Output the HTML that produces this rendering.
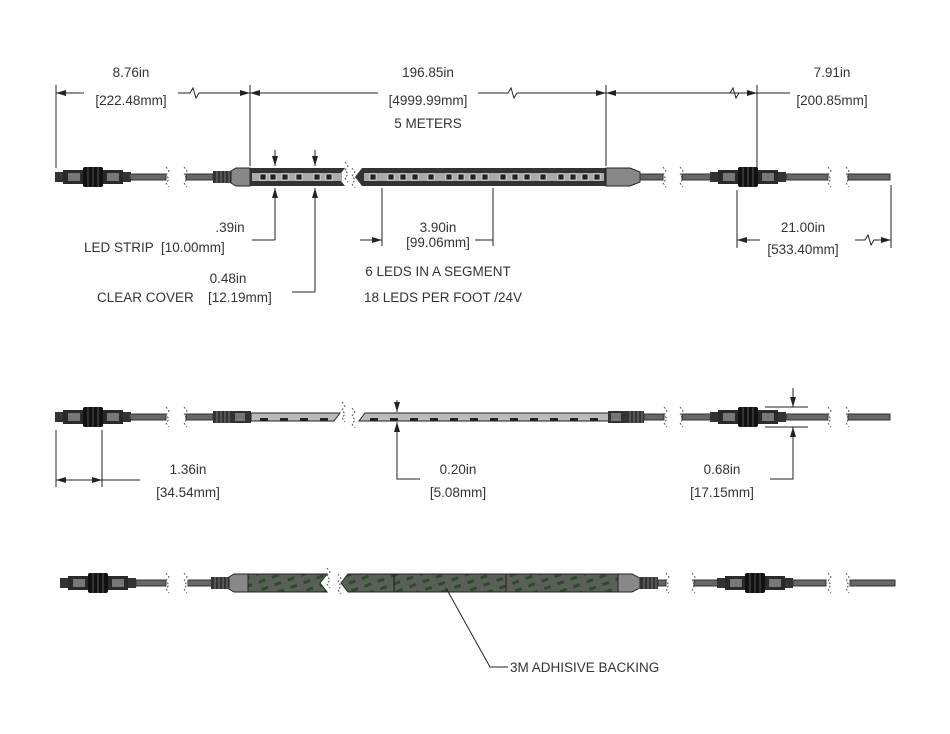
<!DOCTYPE html>
<html><head><meta charset="utf-8"><style>
html,body{margin:0;padding:0;background:#fff;width:950px;height:734px;overflow:hidden}
svg{display:block;overflow:hidden}
text{font-family:"Liberation Sans",sans-serif;font-size:13.5px;fill:#333}
</style></head><body>
<svg width="950" height="734" viewBox="0 0 950 734" xmlns="http://www.w3.org/2000/svg">
<defs>
<marker id="a" viewBox="0 0 10 6" refX="10" refY="3" markerWidth="10" markerHeight="6" orient="auto-start-reverse" markerUnits="userSpaceOnUse"><path d="M0,0 L10,3 L0,6z" fill="#222"/></marker>
<pattern id="g" width="14" height="8" patternUnits="userSpaceOnUse" patternTransform="rotate(-20)">
<rect width="14" height="8" fill="#5a5f58"/><rect x="2" y="2" width="7" height="3" fill="#2f4a2c"/></pattern>
<g id="conn">
<rect x="0" y="-5" width="8" height="10" fill="#333"/>
<rect x="8" y="-7" width="22" height="14" fill="#2a2a2a"/>
<rect x="13" y="-4" width="12" height="8" fill="#777"/>
<rect x="28" y="-10" width="20" height="20" rx="2" fill="#111"/>
<line x1="33" y1="-10" x2="33" y2="10" stroke="#555"/><line x1="38" y1="-10" x2="38" y2="10" stroke="#555"/><line x1="43" y1="-10" x2="43" y2="10" stroke="#555"/>
<rect x="48" y="-7" width="20" height="14" fill="#2a2a2a"/>
<rect x="52" y="-4" width="12" height="8" fill="#777"/>
<rect x="68" y="-5" width="8" height="10" fill="#333"/>
</g>
<g id="brk"><path d="M0,-10 l3,4 -3,4 3,4 -3,4 3,4" fill="none" stroke="#555" stroke-dasharray="2,2"/></g>
<g id="rib"><rect x="0" y="-6" width="18" height="12" fill="#333"/>
<line x1="4" y1="-6" x2="4" y2="6" stroke="#777"/><line x1="8" y1="-6" x2="8" y2="6" stroke="#777"/><line x1="12" y1="-6" x2="12" y2="6" stroke="#777"/><line x1="16" y1="-6" x2="16" y2="6" stroke="#777"/></g>
</defs>

<!-- ROW 1 -->
<g stroke="#222" fill="none" stroke-width="1">
<line x1="56" y1="85" x2="56" y2="168"/>
<line x1="250" y1="85" x2="250" y2="166"/>
<line x1="606" y1="85" x2="606" y2="166"/>
<line x1="757" y1="85" x2="757" y2="168"/>
<line x1="56" y1="93" x2="84" y2="93" marker-start="url(#a)"/>
<path d="M178,93 h12 l3,-5 3,10 3,-5 h51" marker-end="url(#a)"/>
<line x1="250" y1="93" x2="378" y2="93" marker-start="url(#a)"/>
<path d="M478,93 h30 l3,-5 3,10 3,-5 h89" marker-end="url(#a)"/>
<line x1="606" y1="93" x2="790" y2="93" marker-start="url(#a)"/>
<path d="M700,93 h30 l3,-5 3,10 3,-5 h18" marker-end="url(#a)"/>
<line x1="275" y1="150" x2="275" y2="166" marker-end="url(#a)"/>
<line x1="315" y1="150" x2="315" y2="166" marker-end="url(#a)"/>
<path d="M275,240 V188" marker-end="url(#a)"/>
<line x1="252" y1="240" x2="275" y2="240"/>
<path d="M315,292 V188" marker-end="url(#a)"/>
<line x1="292" y1="292" x2="315" y2="292"/>
<line x1="382" y1="188" x2="382" y2="246"/>
<line x1="493" y1="188" x2="493" y2="246"/>
<line x1="360" y1="240" x2="382" y2="240" marker-end="url(#a)"/>
<line x1="475" y1="240" x2="493" y2="240"/>
<line x1="737" y1="190" x2="737" y2="248"/>
<line x1="891" y1="185" x2="891" y2="248"/>
<line x1="737" y1="240" x2="760" y2="240" marker-start="url(#a)"/>
<path d="M855,240 h10 l3,-5 3,10 3,-5 h17" marker-end="url(#a)"/>
</g>
<g transform="translate(55,177)"><use href="#conn"/></g>
<rect x="130" y="174" width="36" height="6" fill="#666" stroke="#333"/>
<use href="#brk" x="166" y="177"/><use href="#brk" x="184" y="177"/>
<rect x="186" y="174" width="27" height="6" fill="#666" stroke="#333"/>
<use href="#rib" x="213" y="177"/>
<path d="M231,171 L236,168 H250 V186 H236 L231,183z" fill="#888" stroke="#222"/>
<path d="M250,168 H345 L338,177 345,186 H250z" fill="#333"/>
<path d="M362,168 H606 V186 H362 L355,177z" fill="#333"/>
<rect x="252" y="173" width="90" height="8" fill="#aaa"/>
<rect x="364" y="173" width="240" height="8" fill="#aaa"/>
<g fill="#222" stroke="#fff" stroke-width=".6">
<rect x="260" y="174" width="6" height="6"/><rect x="270" y="174" width="6" height="6"/><rect x="282" y="174" width="6" height="6"/><rect x="296" y="174" width="6" height="6"/><rect x="314" y="174" width="6" height="6"/><rect x="326" y="174" width="6" height="6"/>
<rect x="370" y="174" width="6" height="6"/><rect x="388" y="174" width="6" height="6"/><rect x="400" y="174" width="6" height="6"/><rect x="412" y="174" width="6" height="6"/><rect x="428" y="174" width="6" height="6"/><rect x="446" y="174" width="6" height="6"/><rect x="458" y="174" width="6" height="6"/><rect x="470" y="174" width="6" height="6"/><rect x="482" y="174" width="6" height="6"/><rect x="500" y="174" width="6" height="6"/><rect x="512" y="174" width="6" height="6"/><rect x="524" y="174" width="6" height="6"/><rect x="540" y="174" width="6" height="6"/><rect x="558" y="174" width="6" height="6"/><rect x="570" y="174" width="6" height="6"/><rect x="582" y="174" width="6" height="6"/><rect x="594" y="174" width="6" height="6"/>
</g>
<path d="M606,168 H630 L640,172 V182 L630,186 H606z" fill="#888" stroke="#222"/>
<rect x="640" y="174" width="23" height="6" fill="#666" stroke="#333"/>
<use href="#brk" x="663" y="177"/><use href="#brk" x="680" y="177"/>
<rect x="682" y="174" width="31" height="6" fill="#666" stroke="#333"/>
<g transform="translate(710,177)"><use href="#conn"/></g>
<rect x="786" y="174" width="42" height="6" fill="#666" stroke="#333"/>
<use href="#brk" x="828" y="177"/><use href="#brk" x="846" y="177"/>
<rect x="848" y="174" width="42" height="6" fill="#666" stroke="#333"/>
<use href="#brk" x="345" y="172"/><use href="#brk" x="352" y="178"/>

<text x="131" y="77" text-anchor="middle">8.76in</text>
<text x="131" y="105" text-anchor="middle">[222.48mm]</text>
<text x="428" y="77" text-anchor="middle">196.85in</text>
<text x="428" y="105" text-anchor="middle">[4999.99mm]</text>
<text x="428" y="128" text-anchor="middle">5 METERS</text>
<text x="832" y="77" text-anchor="middle">7.91in</text>
<text x="832" y="105" text-anchor="middle">[200.85mm]</text>
<text x="230" y="232" text-anchor="middle">.39in</text>
<text x="84" y="252">LED STRIP</text>
<text x="161" y="252">[10.00mm]</text>
<text x="228" y="283" text-anchor="middle">0.48in</text>
<text x="97" y="302">CLEAR COVER</text>
<text x="208" y="302">[12.19mm]</text>
<text x="438" y="232" text-anchor="middle">3.90in</text>
<text x="438" y="247" text-anchor="middle">[99.06mm]</text>
<text x="438" y="276" text-anchor="middle">6 LEDS IN A SEGMENT</text>
<text x="443" y="302" text-anchor="middle">18 LEDS PER FOOT /24V</text>
<text x="803" y="232" text-anchor="middle">21.00in</text>
<text x="803" y="254" text-anchor="middle">[533.40mm]</text>

<!-- ROW 2 -->
<g transform="translate(55,417)"><use href="#conn"/></g>
<rect x="130" y="414" width="36" height="6" fill="#666" stroke="#333"/>
<use href="#brk" x="166" y="417"/><use href="#brk" x="184" y="417"/>
<rect x="186" y="414" width="27" height="6" fill="#666" stroke="#333"/>
<use href="#rib" x="213" y="417"/>
<rect x="231" y="411" width="20" height="12" fill="#333"/><rect x="235" y="413" width="10" height="8" fill="#777"/>
<path d="M251,413 H340 L334,421 H251z" fill="#bbb" stroke="#222"/>
<path d="M365,413 H610 V421 H359z" fill="#bbb" stroke="#222"/>
<g fill="#222"><rect x="260" y="418" width="8" height="3"/><rect x="280" y="418" width="8" height="3"/><rect x="300" y="418" width="8" height="3"/><rect x="320" y="418" width="8" height="3"/>
<rect x="370" y="418" width="8" height="3"/><rect x="390" y="418" width="8" height="3"/><rect x="410" y="418" width="8" height="3"/><rect x="430" y="418" width="8" height="3"/><rect x="450" y="418" width="8" height="3"/><rect x="470" y="418" width="8" height="3"/><rect x="490" y="418" width="8" height="3"/><rect x="510" y="418" width="8" height="3"/><rect x="530" y="418" width="8" height="3"/><rect x="550" y="418" width="8" height="3"/><rect x="570" y="418" width="8" height="3"/><rect x="590" y="418" width="8" height="3"/></g>
<rect x="608" y="411" width="18" height="12" fill="#333"/><rect x="611" y="413" width="10" height="8" fill="#777"/>
<use href="#rib" x="626" y="417"/>
<rect x="644" y="414" width="20" height="6" fill="#666" stroke="#333"/>
<use href="#brk" x="664" y="417"/><use href="#brk" x="680" y="417"/>
<rect x="682" y="414" width="31" height="6" fill="#666" stroke="#333"/>
<g transform="translate(710,417)"><use href="#conn"/></g>
<rect x="786" y="414" width="42" height="6" fill="#666" stroke="#333"/>
<use href="#brk" x="828" y="417"/><use href="#brk" x="846" y="417"/>
<rect x="848" y="414" width="42" height="6" fill="#666" stroke="#333"/>
<use href="#brk" x="342" y="412"/><use href="#brk" x="352" y="418"/>
<g stroke="#222" fill="none">
<line x1="56" y1="430" x2="56" y2="487"/>
<line x1="102" y1="430" x2="102" y2="487"/>
<line x1="56" y1="480" x2="80" y2="480" marker-start="url(#a)"/>
<line x1="80" y1="480" x2="102" y2="480" marker-end="url(#a)"/>
<line x1="102" y1="480" x2="140" y2="480"/>
<line x1="397" y1="400" x2="397" y2="412" marker-end="url(#a)"/>
<path d="M420,479 H397 V422" marker-end="url(#a)"/>
<line x1="765" y1="407" x2="808" y2="407"/>
<line x1="765" y1="427" x2="808" y2="427"/>
<line x1="793" y1="388" x2="793" y2="407" marker-end="url(#a)"/>
<path d="M770,479 H793 V427" marker-end="url(#a)"/>
</g>
<text x="188" y="474" text-anchor="middle">1.36in</text>
<text x="188" y="497" text-anchor="middle">[34.54mm]</text>
<text x="458" y="474" text-anchor="middle">0.20in</text>
<text x="458" y="497" text-anchor="middle">[5.08mm]</text>
<text x="722" y="474" text-anchor="middle">0.68in</text>
<text x="722" y="497" text-anchor="middle">[17.15mm]</text>

<!-- ROW 3 -->
<g transform="translate(60,583)"><use href="#conn"/></g>
<rect x="136" y="580" width="30" height="6" fill="#666" stroke="#333"/>
<use href="#brk" x="166" y="583"/><use href="#brk" x="184" y="583"/>
<rect x="188" y="580" width="25" height="6" fill="#666" stroke="#333"/>
<use href="#rib" x="211" y="583"/>
<path d="M229,577 L234,574 H248 V592 H234 L229,589z" fill="#888" stroke="#222"/>
<path d="M248,574 H327 L320,583 327,592 H248z" fill="url(#g)" stroke="#222"/>
<path d="M348,574 H618 V592 H348 L341,583z" fill="url(#g)" stroke="#222"/>
<line x1="394" y1="574" x2="394" y2="592" stroke="#222"/>
<line x1="506" y1="574" x2="506" y2="592" stroke="#222"/>
<path d="M618,574 H632 L640,578 V588 L632,592 H618z" fill="#888" stroke="#222"/>
<use href="#rib" x="640" y="583"/>
<rect x="658" y="580" width="8" height="6" fill="#666" stroke="#333"/>
<use href="#brk" x="666" y="583"/><use href="#brk" x="692" y="583"/>
<rect x="694" y="580" width="26" height="6" fill="#666" stroke="#333"/>
<g transform="translate(717,583)"><use href="#conn"/></g>
<rect x="793" y="580" width="33" height="6" fill="#666" stroke="#333"/>
<use href="#brk" x="828" y="583"/><use href="#brk" x="846" y="583"/>
<rect x="850" y="580" width="45" height="6" fill="#666" stroke="#333"/>
<use href="#brk" x="327" y="578"/><use href="#brk" x="338" y="584"/>
<path d="M446,588 L490,667 H508" fill="none" stroke="#222"/>
<text x="510" y="672">3M ADHISIVE BACKING</text>
</svg>
</body></html>
